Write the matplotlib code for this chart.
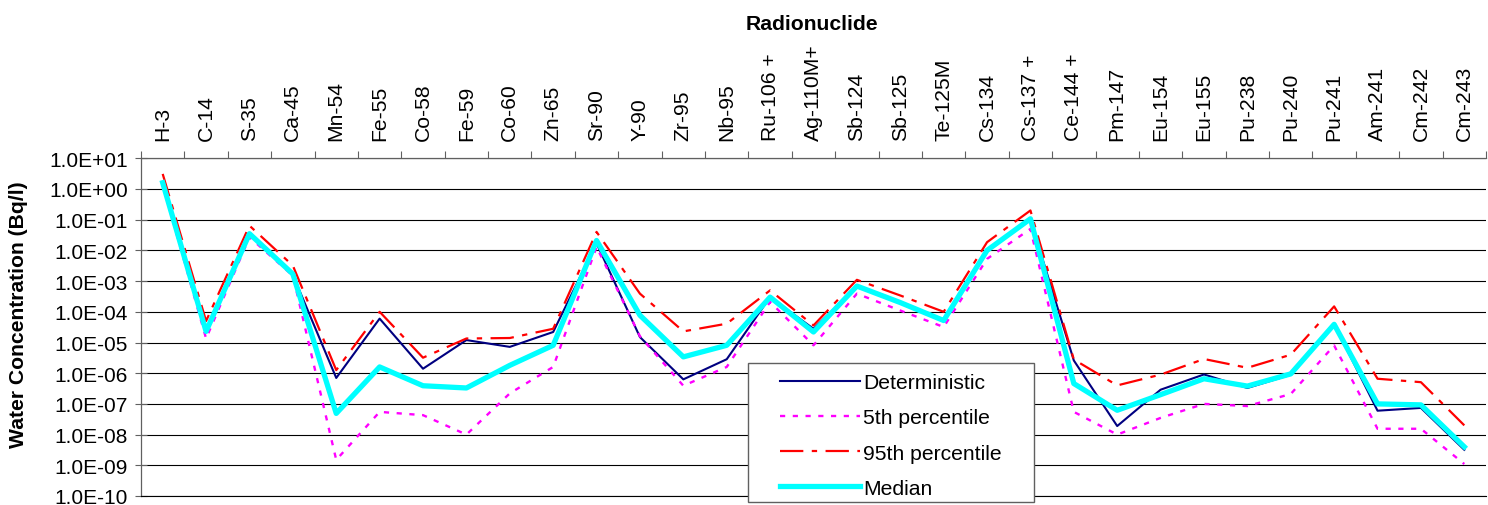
import numpy as np
import matplotlib
matplotlib.use("Agg")
import matplotlib.pyplot as plt
from matplotlib.patches import Rectangle
from matplotlib.ticker import FixedLocator, FuncFormatter

plt.rcParams["font.family"] = ["Liberation Sans", "DejaVu Sans"]

# ========================================================================
# Data: water concentrations (Bq/l) per radionuclide
# ========================================================================
nuclides = [
    "H-3", "C-14", "S-35", "Ca-45", "Mn-54", "Fe-55", "Co-58", "Fe-59",
    "Co-60", "Zn-65", "Sr-90", "Y-90", "Zr-95", "Nb-95", "Ru-106 +",
    "Ag-110M+", "Sb-124", "Sb-125", "Te-125M", "Cs-134", "Cs-137 +",
    "Ce-144 +", "Pm-147", "Eu-154", "Eu-155", "Pu-238", "Pu-240", "Pu-241",
    "Am-241", "Cm-242", "Cm-243",
]
deterministic = [
    1.6, 2.3e-5, 3.5e-2, 1.6e-3, 7.0e-7, 6.0e-5, 1.4e-6, 1.2e-5,
    7.2e-6, 2.2e-5, 1.7e-2, 1.5e-5, 6.3e-7, 2.85e-6, 3.0e-4,
    2.8e-5, 6.5e-4, 2.0e-4, 5.0e-5, 1.0e-2, 1.0e-1,
    2.6e-6, 1.9e-8, 2.9e-7, 9.1e-7, 3.3e-7, 8.9e-7, 4.0e-5,
    6.0e-8, 7.4e-8, 3.2e-9,
]
pct5 = [
    1.4, 1.35e-5, 2.7e-2, 1.5e-3, 1.5e-9, 5.5e-8, 4.3e-8, 1.0e-8,
    2.2e-7, 1.6e-6, 1.3e-2, 1.6e-5, 3.9e-7, 1.6e-6, 2.1e-4,
    8.1e-6, 3.9e-4, 1.1e-4, 3.2e-5, 5.3e-3, 5.0e-2,
    5.5e-8, 1.0e-8, 3.5e-8, 1.0e-7, 8.5e-8, 2.1e-7, 8.0e-6,
    1.55e-8, 1.55e-8, 1.1e-9,
]
pct95 = [
    3.1, 5.0e-5, 6.4e-2, 3.2e-3, 1.26e-6, 1.0e-4, 3.2e-6, 1.35e-5,
    1.4e-5, 2.8e-5, 4.0e-2, 3.9e-4, 2.3e-5, 4.1e-5, 5.0e-4,
    3.6e-5, 1.1e-3, 3.4e-4, 1.0e-4, 1.85e-2, 2.0e-1,
    2.8e-6, 4.0e-7, 9.0e-7, 2.9e-6, 1.5e-6, 4.0e-6, 1.5e-4,
    6.6e-7, 5.1e-7, 2.0e-8,
]
median = [
    1.6, 2.3e-5, 3.5e-2, 1.7e-3, 4.9e-8, 1.6e-6, 3.9e-7, 3.3e-7,
    1.8e-6, 8.1e-6, 2.1e-2, 7.7e-5, 3.4e-6, 8.1e-6, 3.0e-4,
    2.2e-5, 6.9e-4, 2.0e-4, 5.2e-5, 1.0e-2, 1.07e-1,
    4.6e-7, 6.2e-8, 2.0e-7, 6.6e-7, 3.8e-7, 9.5e-7, 3.9e-5,
    1.0e-7, 9.3e-8, 4.0e-9,
]
ydecades = list(range(-10, 2))

# ========================================================================
# Figure
# ========================================================================
W, H = 1488, 506
fs = 15.2
fig = plt.figure(figsize=(W / 100, H / 100), dpi=100)
ax = fig.add_axes([141 / W, 1 - 497 / H, 1345 / W, (497 - 159.3) / H])

n = len(nuclides)
x = np.arange(n) + 0.5

ax.plot(x, deterministic, color="#000080", lw=1.5, label="Deterministic", zorder=3)
(l5,) = ax.plot(x, pct5, color="#FF00FF", lw=1.7, label="5th percentile", zorder=3)
l5.set_dashes([2.2, 3.2])
(l95,) = ax.plot(x, pct95, color="#FF0000", lw=1.6, label="95th percentile", zorder=3)
l95.set_dashes([10.5, 3.8, 2.4, 3.8])
ax.plot(x, median, color="#00FFFF", lw=3.8, label="Median", zorder=4)

ax.set_yscale("log")
ax.set_ylim(1e-10, 1e1)
ax.set_xlim(0, n)

# horizontal grid at each decade
yt = [10.0 ** d for d in ydecades]
ax.yaxis.set_major_locator(FixedLocator(yt))
ax.yaxis.set_minor_locator(FixedLocator([]))
ax.yaxis.set_major_formatter(FuncFormatter(lambda v, p: "{0:.1E}".format(v)))
ax.grid(axis="y", which="major", color="black", lw=0.8)
ax.tick_params(axis="y", which="major", direction="inout", length=9,
               width=0.8, color="#606060", labelsize=15, pad=5)

# categories on top, tick marks between them
ax.xaxis.tick_top()
ax.set_xticks(np.arange(n + 1))
ax.set_xticklabels([])
ax.set_xticks(x, minor=True)
ax.set_xticklabels(nuclides, minor=True, rotation=90, fontsize=fs)
ax.tick_params(axis="x", which="major", direction="out", length=5,
               width=0.8, color="#606060")
ax.tick_params(axis="x", which="minor", length=0, pad=13)

ax.spines["right"].set_visible(False)
ax.spines["bottom"].set_color("black")
ax.spines["bottom"].set_linewidth(0.8)
for s in ["left", "top"]:
    ax.spines[s].set_color("#606060")
    ax.spines[s].set_linewidth(0.9)

fig.text(812 / W, 1 - 25 / H, "Radionuclide", ha="center", va="center",
         fontsize=fs, fontweight="bold")
fig.text(19 / W, 1 - 315 / H, "Water Concentration (Bq/l)", ha="center",
         va="center", rotation=90, fontsize=fs, fontweight="bold")

# legend box with its own frame
frame = Rectangle((748 / W, 1 - 503 / H), 286 / W, 139 / H,
                  transform=fig.transFigure, facecolor="white",
                  edgecolor="#606060", lw=1.0, zorder=5, clip_on=False)
ax.add_patch(frame)
leg = ax.legend(loc="upper left", bbox_to_anchor=(780 / W, 1 - 374 / H),
                bbox_transform=fig.transFigure, fontsize=fs, frameon=False,
                handlelength=3.8, handletextpad=0.15, labelspacing=0.77,
                borderpad=0, borderaxespad=0)
leg.set_zorder(6)

fig.savefig("out.png", dpi=100)
